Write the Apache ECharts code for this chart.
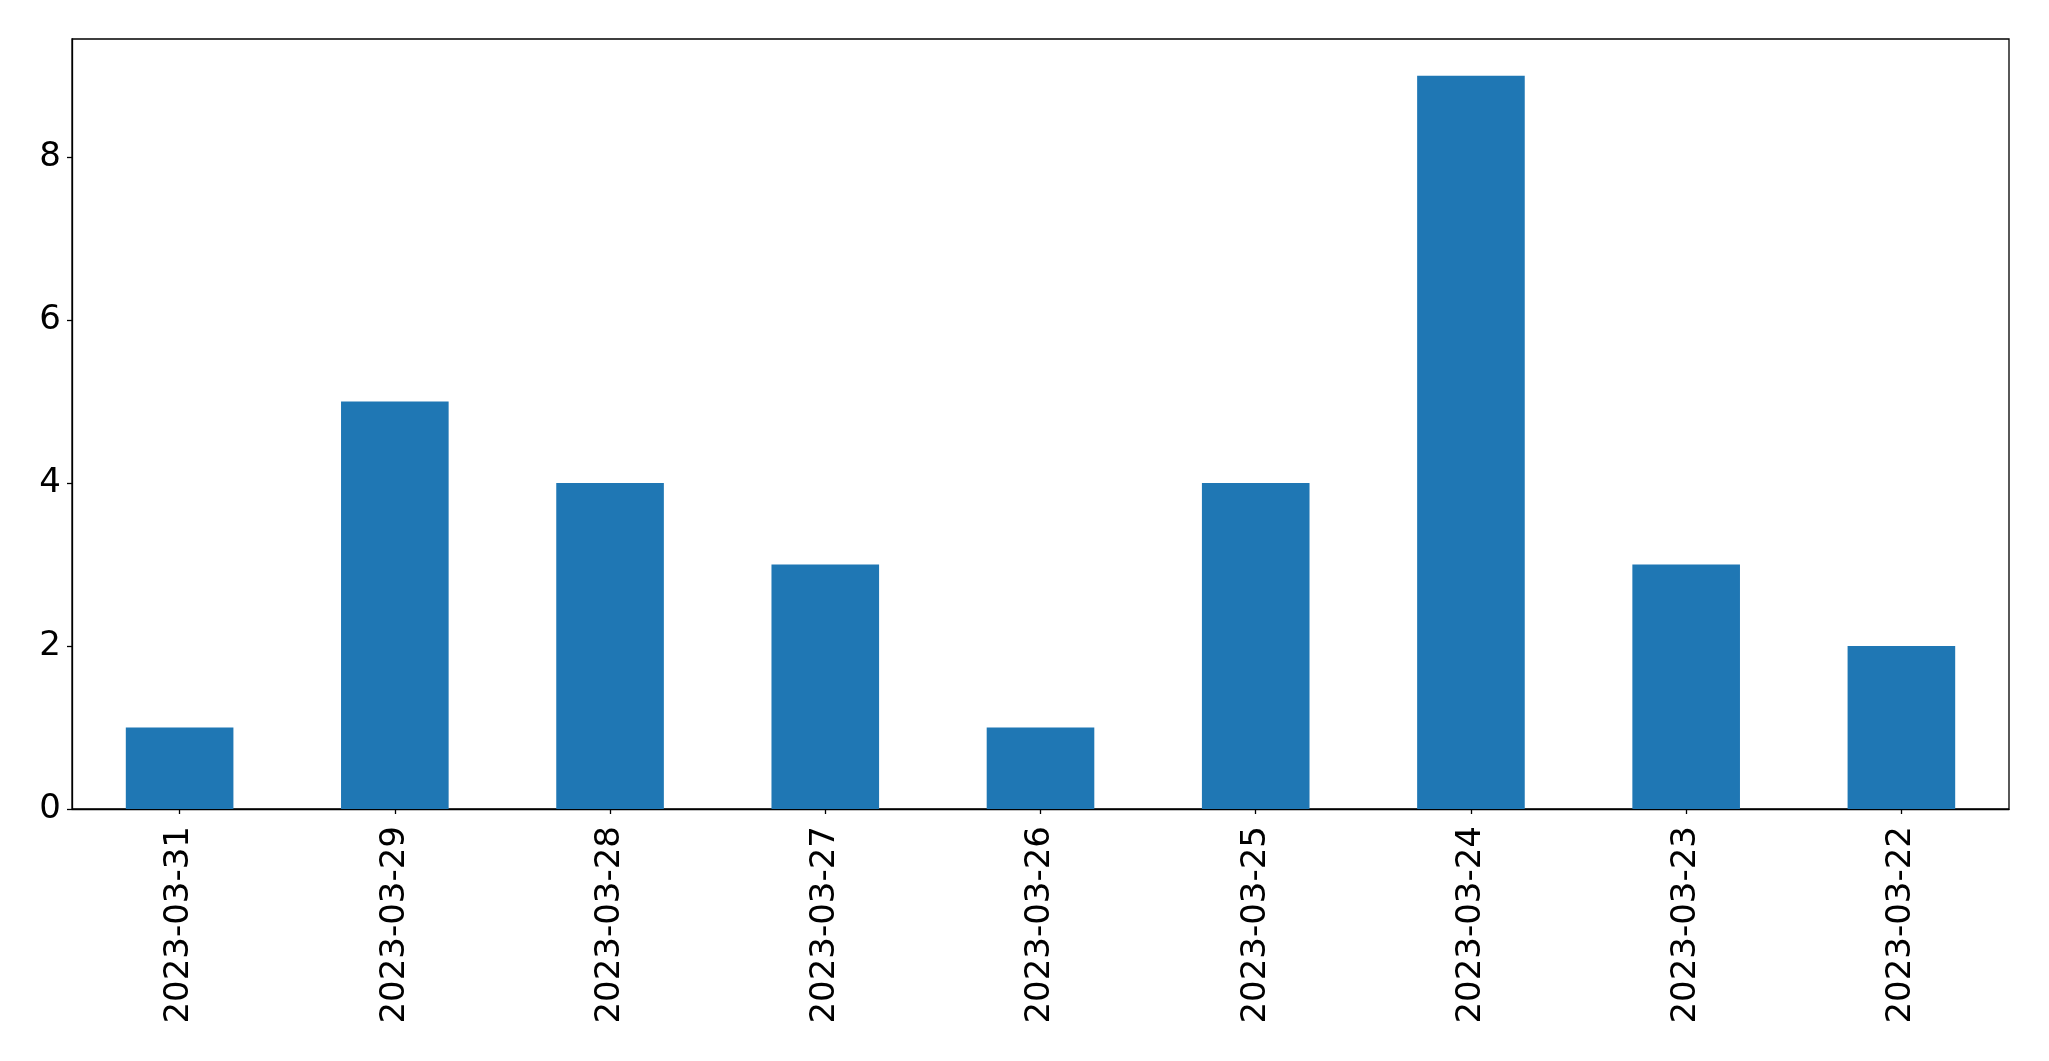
<!DOCTYPE html>
<html>
<head>
<meta charset="utf-8">
<script src="https://cdn.jsdelivr.net/npm/echarts@6/dist/echarts.min.js"></script>
<style>
  html, body { margin: 0; padding: 0; background: #fff; }
  #chart { width: 2049px; height: 1061px; }
</style>
</head>
<body>
<div id="chart"></div>
<script>
const dates = ['2023-03-31', '2023-03-29', '2023-03-28', '2023-03-27', '2023-03-26',
  '2023-03-25', '2023-03-24', '2023-03-23', '2023-03-22'];
const counts = [1, 5, 4, 3, 1, 4, 9, 3, 2];
const yTicks = [0, 2, 4, 6, 8];

const chart = echarts.init(document.getElementById('chart'));
chart.setOption({
  animation: false,
  textStyle: { fontFamily: 'DejaVu Sans' },
  grid: {
    left: 72, right: 40, top: 39, bottom: 252,
    show: true, borderColor: '#000', borderWidth: 1.3,
    containLabel: false
  },
  xAxis: {
    type: 'category',
    data: dates,
    axisLine: { show: true, lineStyle: { color: '#000', width: 1.3 } },
    axisTick: { show: true, alignWithLabel: true, length: 5, lineStyle: { color: '#000', width: 1.3 } },
    axisLabel: { rotate: 90, margin: 17, fontSize: 34, color: '#000', fontFamily: 'DejaVu Sans' },
    splitLine: { show: false }
  },
  yAxis: {
    type: 'value',
    min: 0,
    max: 9.45,
    axisLine: { show: true, lineStyle: { color: '#000', width: 1.3 } },
    axisTick: { show: true, length: 5, customValues: yTicks, lineStyle: { color: '#000', width: 1.3 } },
    axisLabel: { customValues: yTicks, margin: 11, fontSize: 34, padding: [4, 0, 0, 0], color: '#000', fontFamily: 'DejaVu Sans' },
    splitLine: { show: false }
  },
  series: [{
    type: 'bar',
    data: counts,
    barWidth: '50%',
    itemStyle: { color: '#1f77b4' }
  }]
});
</script>
</body>
</html>
